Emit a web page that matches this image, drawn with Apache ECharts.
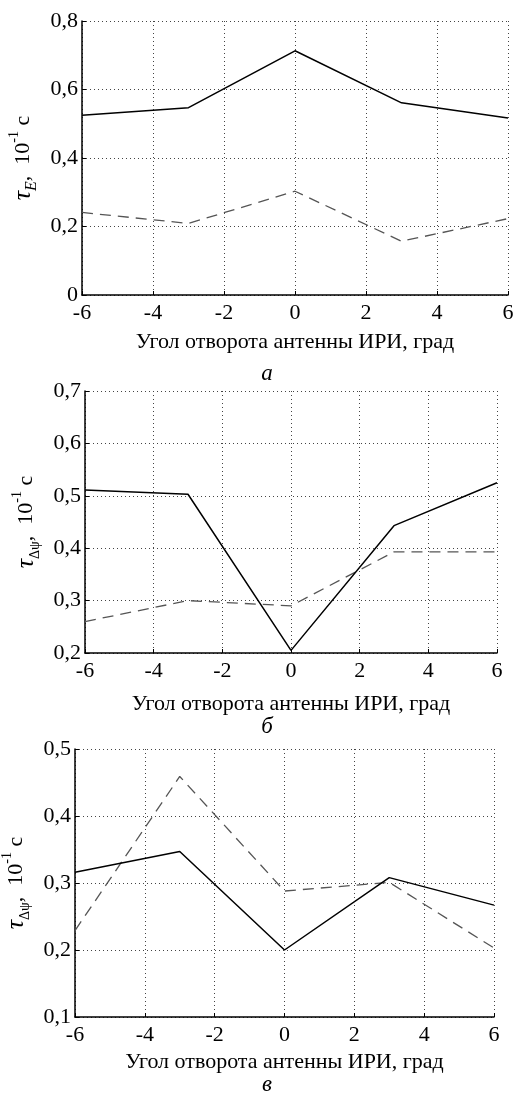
<!DOCTYPE html>
<html>
<head>
<meta charset="utf-8">
<script src="https://cdn.jsdelivr.net/npm/echarts@6/dist/echarts.min.js"></script>
<style>
html,body{margin:0;padding:0;background:#fff;}
#chart{width:517px;height:1093px;}
</style>
</head>
<body>
<div id="chart"></div>
<script>
// ---- data ----
var angles = [-6, -3, 0, 3, 6];
var xTicks = [-6, -4, -2, 0, 2, 4, 6];
var xTitle = 'Угол отворота антенны ИРИ, град';
var panelLabels = ['а', 'б', 'в'];

var aSolid  = [0.525, 0.547, 0.713, 0.561, 0.517];
var aDashed = [0.241, 0.209, 0.303, 0.157, 0.223];

var bSolid  = [0.511, 0.503, 0.205, 0.443, 0.525];
var bDashed = [0.260, 0.300, 0.290, 0.393, 0.393];

var cSolid  = [0.316, 0.347, 0.200, 0.308, 0.267];
var cDashed = [0.229, 0.459, 0.288, 0.301, 0.203];

var yRanges = [[0, 0.8, 0.2], [0.2, 0.7, 0.1], [0.1, 0.5, 0.1]];

// ---- layout ----
var FONT = 'Liberation Serif';
var grids = [
  {left: 82, top: 21, width: 426, height: 274, containLabel: false, outerBoundsMode: 'none'},
  {left: 85, top: 391, width: 412, height: 262, containLabel: false, outerBoundsMode: 'none'},
  {left: 75, top: 749, width: 419, height: 268, containLabel: false, outerBoundsMode: 'none'}
];
var yNameGaps = [42, 38, 38];
var xNameGaps = [36, 40, 34];
var yNameSub = ['E', 'Δψ', 'Δψ'];
var labelTops = [357, 710, 1068];

function pairs(ys) { return angles.map(function (x, i) { return [x, ys[i]]; }); }

var xAxes = [], yAxes = [], series = [], titles = [];
var solids = [aSolid, bSolid, cSolid];
var dasheds = [aDashed, bDashed, cDashed];

for (var g = 0; g < 3; g++) {
  xAxes.push({
    type: 'value', gridIndex: g, min: -6, max: 6, interval: 2,
    name: xTitle, nameLocation: 'middle', nameGap: xNameGaps[g],
    nameTextStyle: {fontFamily: FONT, fontSize: 22, color: '#000'},
    axisLine: {show: true, onZero: false, lineStyle: {color: '#000', width: 1.5}},
    axisTick: {show: true, inside: true, length: 4, lineStyle: {color: '#000'}},
    axisLabel: {fontFamily: FONT, fontSize: 22, color: '#000', margin: 7,
      formatter: function (v) { return String(v); }},
    splitLine: {show: true, lineStyle: {color: '#444', type: [1, 3], width: 1}}
  });
  var r = yRanges[g];
  yAxes.push({
    type: 'value', gridIndex: g, min: r[0], max: r[1], interval: r[2],
    name: '{t|τ}{s|' + yNameSub[g] + '}{n|,  10}{p|-1}{n| с}',
    nameLocation: 'middle', nameGap: yNameGaps[g],
    nameTextStyle: {
      fontFamily: FONT, color: '#000',
      rich: {
        t: {fontFamily: FONT, fontStyle: 'italic', fontSize: 26, lineHeight: 32, color: '#000'},
        s: {fontFamily: FONT, fontStyle: g === 0 ? 'italic' : 'normal', fontSize: g === 0 ? 16 : 14,
            lineHeight: 14, verticalAlign: 'bottom', color: '#000'},
        n: {fontFamily: FONT, fontSize: 22, lineHeight: 32, color: '#000'},
        p: {fontFamily: FONT, fontSize: 14, lineHeight: 14, verticalAlign: 'top', color: '#000'}
      }
    },
    axisLine: {show: true, onZero: false, lineStyle: {color: '#000', width: 1.5}},
    axisTick: {show: true, inside: true, length: 4, lineStyle: {color: '#000'}},
    axisLabel: {fontFamily: FONT, fontSize: 22, color: '#000', margin: 4,
      formatter: function (v) { return v === 0 ? '0' : (+v.toFixed(1)).toString().replace('.', ','); }},
    splitLine: {show: true, lineStyle: {color: '#444', type: [1, 3], width: 1}}
  });
  series.push({
    type: 'line', xAxisIndex: g, yAxisIndex: g, data: pairs(solids[g]),
    symbol: 'none', lineStyle: {color: '#000', width: 1.5}, z: 3
  });
  series.push({
    type: 'line', xAxisIndex: g, yAxisIndex: g, data: pairs(dasheds[g]),
    symbol: 'none', lineStyle: {color: '#555', width: 1.3, type: [11, 7]}, z: 2
  });
  titles.push({
    text: panelLabels[g], left: 262, top: labelTops[g], textAlign: 'center',
    textStyle: {fontFamily: FONT, fontStyle: 'italic', fontWeight: 'normal', fontSize: 23, color: '#000'}
  });
}

var chart = echarts.init(document.getElementById('chart'), null, {renderer: 'canvas'});
chart.setOption({
  backgroundColor: '#fff',
  animation: false,
  title: titles,
  grid: grids,
  xAxis: xAxes,
  yAxis: yAxes,
  series: series
});
</script>
</body>
</html>
